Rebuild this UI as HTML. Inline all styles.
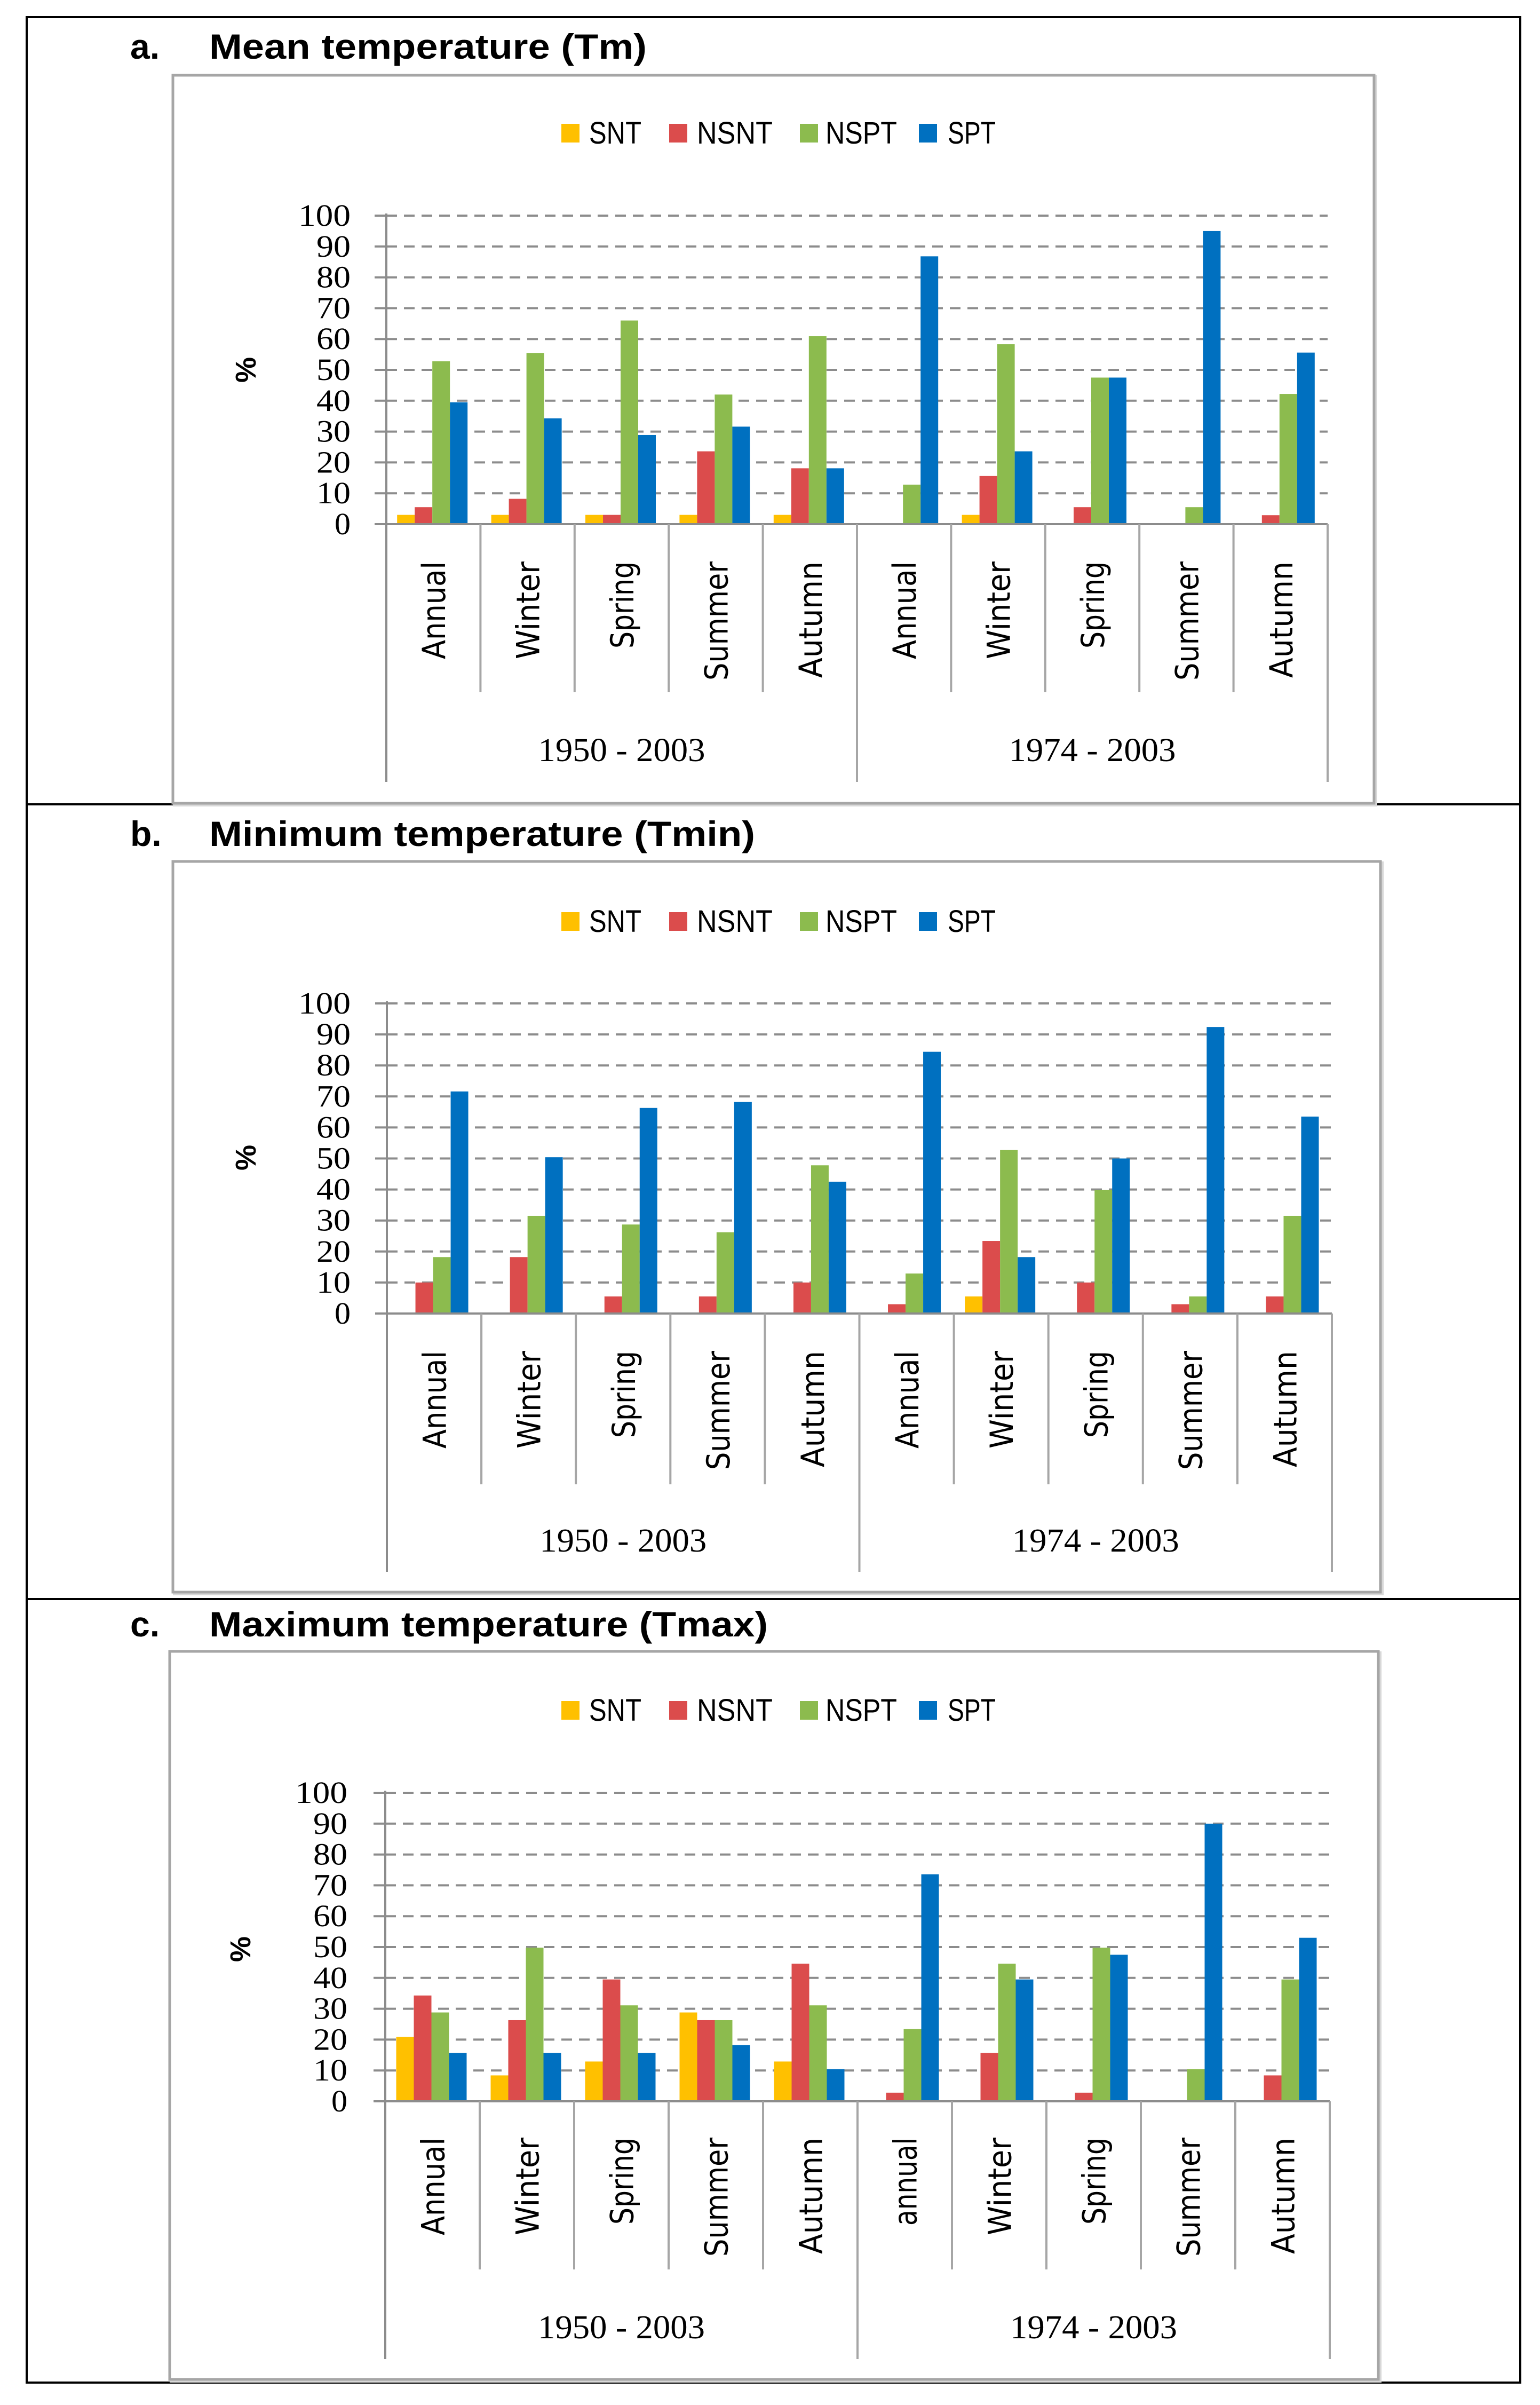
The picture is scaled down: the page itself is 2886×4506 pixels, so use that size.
<!DOCTYPE html>
<html><head><meta charset="utf-8"><style>
html,body{margin:0;padding:0;background:#fff}
svg{display:block}
</style></head><body>
<svg id="fig" xmlns="http://www.w3.org/2000/svg" width="2886" height="4506" viewBox="0 0 2886 4506">
<rect x="0" y="0" width="2886" height="4506" fill="#fff"/>
<rect x="50" y="32" width="2799" height="4432" fill="none" stroke="#000" stroke-width="4"/>
<line x1="50" y1="1507" x2="2849" y2="1507" stroke="#000" stroke-width="4"/>
<line x1="50" y1="2996" x2="2849" y2="2996" stroke="#000" stroke-width="4"/>
</svg>
<script>
const categories = ["Annual","Winter","Spring","Summer","Autumn","Annual","Winter","Spring","Summer","Autumn"];
const categoriesC = ["Annual","Winter","Spring","Summer","Autumn","annual","Winter","Spring","Summer","Autumn"];
const periods = ["1950 - 2003","1974 - 2003"];
const seriesNames = ["SNT","NSNT","NSPT","SPT"];
const yTicks = [0,10,20,30,40,50,60,70,80,90,100];

const tmSNT  = [3,3,3,3,3,0,3,0,0,0];
const tmNSNT = [5.5,8.2,3,23.6,18.1,0,15.6,5.5,0,2.9];
const tmNSPT = [52.8,55.5,66,42,60.9,12.8,58.3,47.5,5.5,42.2];
const tmSPT  = [39.5,34.3,28.9,31.6,18.1,86.8,23.6,47.5,95,55.6];

const tminSNT  = [0,0,0,0,0,0,5.5,0,0,0];
const tminNSNT = [10,18.2,5.5,5.5,10,3,23.4,10,3,5.5];
const tminNSPT = [18.2,31.5,28.7,26.2,47.8,12.9,52.7,39.8,5.5,31.5];
const tminSPT  = [71.6,50.4,66.3,68.2,42.5,84.4,18.2,50,92.4,63.5];

const tmaxSNT  = [20.9,8.4,12.9,28.8,12.9,0,0,0,0,0];
const tmaxNSNT = [34.3,26.3,39.5,26.3,44.6,2.8,15.7,2.8,0,8.4];
const tmaxNSPT = [28.8,49.8,31.1,26.3,31.1,23.4,44.6,49.8,10.4,39.5];
const tmaxSPT  = [15.7,15.7,15.7,18.2,10.4,73.6,39.5,47.5,90,53];

const colors = ["#FFC000","#DB4C4C","#8CBB4E","#0070C0"];
const catLen = {"Annual":183,"annual":165,"Winter":183,"Spring":163,"Summer":223,"Autumn":218};
const legendSq = [1052,1254,1499,1722];
const legendTx = [1104,1306,1547,1776];
const legendTl = [98,142,134,90];

const NS="http://www.w3.org/2000/svg";
const svg=document.getElementById('fig');
function mk(tag,attrs,parent,text){const e=document.createElementNS(NS,tag);for(const k in attrs)e.setAttribute(k,attrs[k]);if(text!==undefined)e.textContent=text;(parent||svg).appendChild(e);return e;}

const panels=[
 {key:"a",letter:"a.",title:"Mean temperature (Tm)",tl:820,tb:110,box:[324,141,2575,1505],x0:724,x1:2488,y0:982,y100:404,lb:269,pct:[463,693],gb:1426,ct:1052,si:1297,sg:1465,tickX:657,cats:categories,data:[tmSNT,tmNSNT,tmNSPT,tmSPT]},
 {key:"b",letter:"b.",title:"Minimum temperature (Tmin)",tl:1023,tb:1585,box:[324,1614,2587,2983],x0:725,x1:2496,y0:2461,y100:1880,lb:1746,pct:[463,2169],gb:2907,ct:2531,si:2781,sg:2945,tickX:657,cats:categories,data:[tminSNT,tminNSNT,tminNSPT,tminSPT]},
 {key:"c",letter:"c.",title:"Maximum temperature (Tmax)",tl:1047,tb:3066,box:[318,3094,2583,4458],x0:722,x1:2492,y0:3937,y100:3359,lb:3224,pct:[453,3652],gb:4381,ct:4005,si:4252,sg:4420,tickX:651,cats:categoriesC,data:[tmaxSNT,tmaxNSNT,tmaxNSPT,tmaxSPT]}
];

panels.forEach(p=>{
  const g=mk('g',{});
  
  
  const lt=mk('text',{x:244,y:p.tb,'font-family':'Liberation Sans, sans-serif','font-weight':'bold','font-size':66,fill:'#000'},g,p.letter);
  
  
  const tt=mk('text',{x:392,y:p.tb,'font-family':'Liberation Sans, sans-serif','font-weight':'bold','font-size':66,fill:'#000',textLength:p.tl,lengthAdjust:'spacingAndGlyphs'},g,p.title);
  
  
  const [bx,by,bx2,by2]=p.box;
  mk('rect',{x:bx+3,y:by+3,width:bx2-bx,height:by2-by,fill:'none',stroke:'#d8d8d8','stroke-width':6},g);
  const br=mk('rect',{x:bx,y:by,width:bx2-bx,height:by2-by,fill:'#fff',stroke:'#a6a6a6','stroke-width':5},g);
  
  
  // legend
  seriesNames.forEach((s,i)=>{
    const lg=mk('g',{},g);
    
    
    mk('rect',{x:legendSq[i],y:p.lb-37,width:34,height:35,fill:colors[i]},lg);
    mk('text',{x:legendTx[i],y:p.lb,'font-family':'Liberation Sans, sans-serif','font-size':58,fill:'#000',textLength:legendTl[i],lengthAdjust:'spacingAndGlyphs'},lg,s);
  });
  const yS=v=>p.y0-(p.y0-p.y100)*v/100;
  const W=(p.x1-p.x0)/p.cats.length;
  // gridlines & ticks
  yTicks.forEach(t=>{
    const y=yS(t);
    if(t>0){
      const gl=mk('line',{x1:p.x0,y1:y,x2:p.x1,y2:y,stroke:'#8c8c8c','stroke-width':4,'stroke-dasharray':'20 13'},g);
      
      
    }
    mk('line',{x1:p.x0-22,y1:y,x2:p.x0,y2:y,stroke:'#8c8c8c','stroke-width':4},g);
    const tl=mk('text',{x:p.tickX,y:y+19,'text-anchor':'end','font-family':'Liberation Serif, serif','font-size':58,fill:'#000',textLength:(t===100?98:(t===0?30:64)),lengthAdjust:'spacingAndGlyphs'},g,String(t));
    
    
  });
  const yt=mk('text',{x:0,y:0,transform:`translate(${p.pct[0]+16},${p.pct[1]}) rotate(-90)`,'text-anchor':'middle','font-family':'Liberation Sans, sans-serif','font-weight':'bold','font-size':54,fill:'#000'},g,'%');
  
  
  // bars
  const bw=33, off=(W-4*bw)/2-2;
  p.cats.forEach((c,ci)=>{
    p.data.forEach((arr,si)=>{
      const v=arr[ci]; if(v<=0) return;
      const x=p.x0+ci*W+off+si*bw;
      const r=mk('rect',{x:x,y:yS(v),width:bw,height:p.y0-yS(v),fill:colors[si]},g);
      
      
    });
  });
  // axes
  const ax=mk('line',{x1:p.x0,y1:p.y100-4,x2:p.x0,y2:p.sg,stroke:'#8c8c8c','stroke-width':4},g);
  
  
  const xa=mk('line',{x1:p.x0-22,y1:p.y0,x2:p.x1,y2:p.y0,stroke:'#8c8c8c','stroke-width':4},g);
  
  
  for(let i=1;i<=p.cats.length;i++){
    const x=p.x0+i*W;
    const grp=(i%5===0);
    mk('line',{x1:x,y1:p.y0,x2:x,y2:grp?p.sg:p.si,stroke:'#a6a6a6','stroke-width':4},g);
  }
  p.cats.forEach((c,ci)=>{
    const cx=p.x0+(ci+0.5)*W+22;
    const t=mk('text',{x:0,y:0,transform:`translate(${cx},${p.ct}) rotate(-90)`,'text-anchor':'end','font-family':'DejaVu Sans, sans-serif','font-size':60,fill:'#000',textLength:catLen[c],lengthAdjust:'spacingAndGlyphs'},g,c);
    
    
  });
  periods.forEach((pr,pi)=>{
    const cx=p.x0+(pi*5+2.5)*W;
    const t=mk('text',{x:cx,y:p.gb,'text-anchor':'middle','font-family':'Liberation Serif, serif','font-size':62,fill:'#000',textLength:313,lengthAdjust:'spacingAndGlyphs'},g,pr);
    
    
  });
});
</script>
</body></html>
